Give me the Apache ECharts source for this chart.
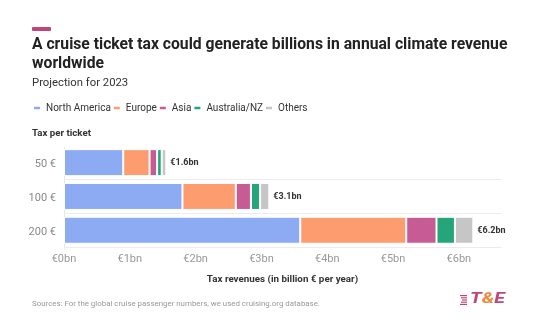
<!DOCTYPE html>
<html><head><meta charset="utf-8">
<script src="https://cdn.jsdelivr.net/npm/echarts@6/dist/echarts.min.js"></script>
<style>html,body{margin:0;padding:0;background:#fff;}#c{width:536px;height:332px;}</style>
</head><body><div id="c"></div>
<script>
const categories = ['50 €', '100 €', '200 €'];
const northAmerica = [0.90, 1.80, 3.59];
const europe = [0.40, 0.81, 1.61];
const asia = [0.115, 0.23, 0.46];
const australiaNZ = [0.07, 0.14, 0.28];
const others = [0.07, 0.14, 0.28];
const totalLabels = ['€1.6bn', '€3.1bn', '€6.2bn'];
const seriesNames = ['North America', 'Europe', 'Asia', 'Australia/NZ', 'Others'];
const colors = ['#8dabf2', '#fd9c6e', '#c75b93', '#27a57a', '#c6c6c6'];
const FONT = 'Roboto';

const chart = echarts.init(document.getElementById('c'), null, {renderer: 'canvas'});
const values = [northAmerica, europe, asia, australiaNZ, others];
const series = values.map((d, i) => ({
  name: seriesNames[i], type: 'bar', stack: 'total', data: d, barWidth: 27, z: 3,
  itemStyle: {color: colors[i], borderColor: '#fff', borderWidth: 1},
  label: i === values.length - 1 ? {
    show: true, position: 'right', distance: 3,
    formatter: p => totalLabels[p.dataIndex],
    fontFamily: FONT, fontSize: 9, fontWeight: 'bold', color: '#333',
    backgroundColor: '#fff', padding: [1, 1]
  } : {show: false}
}));
series.push({
  name: 'grid', type: 'bar', data: [], z: 1, silent: true,
  markLine: {
    silent: true, symbol: 'none', z: 1, label: {show: false},
    lineStyle: {color: '#ececec', type: 'solid', width: 1},
    data: categories.map(c => ({yAxis: c}))
  }
});

chart.setOption({
  backgroundColor: '#fff',
  animation: false,
  color: colors,
  title: [
    {text: 'A cruise ticket tax could generate billions in annual climate revenue\nworldwide',
     left: 32, top: 36, padding: 0,
     textStyle: {fontFamily: FONT, fontSize: 15.7, fontWeight: 'bold', color: '#222', lineHeight: 19}},
    {text: 'Projection for 2023', left: 32, top: 78, padding: 0,
     textStyle: {fontFamily: FONT, fontSize: 11.3, fontWeight: 'normal', color: '#333'}}
  ],
  legend: {
    data: seriesNames, left: 32, top: 103, padding: 0,
    icon: 'roundRect', itemWidth: 8, itemHeight: 4.5, itemGap: 1,
    textStyle: {fontFamily: FONT, fontSize: 10, color: '#333'}
  },
  grid: {left: 64, right: 35, top: 147.6, bottom: 83, containLabel: false},
  xAxis: {
    type: 'value', min: 0, max: 6.64, interval: 1,
    name: 'Tax revenues (in billion € per year)', nameLocation: 'middle', nameGap: 26,
    nameTextStyle: {fontFamily: FONT, fontSize: 9.8, fontWeight: 'bold', color: '#333'},
    axisLine: {show: false}, axisTick: {show: false}, splitLine: {show: false},
    axisLabel: {fontFamily: FONT, fontSize: 11, color: '#999', margin: 5,
      showMaxLabel: false,
      formatter: v => Number.isInteger(v) ? '€' + v + 'bn' : ''}
  },
  yAxis: {
    type: 'category', data: categories, inverse: true,
    axisLine: {show: true, onZero: false, lineStyle: {color: '#e6e6e6'}},
    axisTick: {show: false},
    axisLabel: {fontFamily: FONT, fontSize: 11, color: '#888', margin: 8}
  },
  series: series,
  graphic: [
    {type: 'rect', left: 32, top: 27, shape: {width: 19, height: 4, r: 1}, style: {fill: '#c0457a'}},
    {type: 'text', left: 32, top: 129, style: {text: 'Tax per ticket', font: 'bold 9.7px Roboto', fill: '#333'}},
    {type: 'text', left: 32, top: 300, style: {text: 'Sources: For the global cruise passenger numbers, we used cruising.org database.', font: '7.9px Roboto', fill: '#999'}},
    {type: 'group', left: 460, top: 295, children: [
      {type: 'rect', shape: {x: 1, y: 0, width: 7, height: 1.2}, style: {fill: '#c0457a'}},
      {type: 'rect', shape: {x: 2, y: 2.2, width: 6, height: 1.2}, style: {fill: '#c0457a'}},
      {type: 'rect', shape: {x: 3, y: 4.4, width: 5, height: 1.2}, style: {fill: '#c0457a'}},
      {type: 'rect', shape: {x: 2, y: 6.6, width: 6, height: 1.2}, style: {fill: '#c0457a'}},
      {type: 'rect', shape: {x: 1, y: 8.8, width: 7, height: 1.2}, style: {fill: '#c0457a'}}
    ]},
    {type: 'text', x: 470, y: 292, scaleX: 1.3, style: {
      text: '{t|T}{a|&}{t|E}',
      rich: {
        t: {font: 'italic bold 15px Roboto', fill: '#c0457a'},
        a: {font: 'italic bold 15px Roboto', fill: '#f08a3c'}
      }
    }}
  ]
});
</script>
</body></html>
